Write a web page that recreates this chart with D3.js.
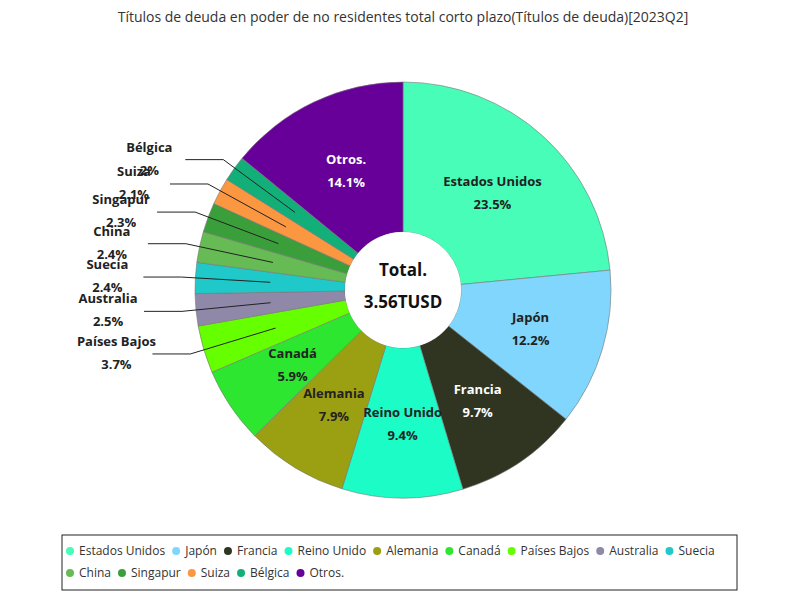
<!DOCTYPE html>
<html lang="en">
<head>
  <meta charset="UTF-8">
  <title>Chart</title>
  <script src="https://cdn.jsdelivr.net/npm/d3@7/dist/d3.min.js"></script>
  <style>
    body { margin: 0; background: #fff; font-family: "Open Sans", "Noto Sans", sans-serif; }
  </style>
</head>
<body>
  <svg></svg>
  <script>
    const width = 800, height = 600
    const title = "Títulos de deuda en poder de no residentes total corto plazo(Títulos de deuda)[2023Q2]"
    const categories = ["Estados Unidos", "Japón", "Francia", "Reino Unido", "Alemania", "Canadá", "Países Bajos",
      "Australia", "Suecia", "China", "Singapur", "Suiza", "Bélgica", "Otros."]
    const shares = [23.5, 12.2, 9.7, 9.4, 7.9, 5.9, 3.7, 2.5, 2.4, 2.4, 2.3, 2.1, 2, 14.1]
    const colors = ["#47fdb8", "#80d6fc", "#2f3520", "#1bfcc6", "#9ba012", "#2de62f", "#66ff00",
      "#9088a8", "#20c9c9", "#66bb55", "#3a9f3a", "#fb9641", "#12b078", "#660099"]
    const whiteText = ["Francia", "Otros."]
    const totalLabel = "3.56TUSD"

    const cx = 403, cy = 290, R = 208, r0 = 58

    const svg = d3.select("svg").attr("width", width).attr("height", height)

    svg.append("text").attr("x", cx).attr("y", 22).attr("text-anchor", "middle")
      .style("font-size", "14px").attr("fill", "#333").text(title)

    const data = categories.map((c, i) => ({ name: c, value: shares[i], color: colors[i] }))
    const pie = d3.pie().sort(null).value(d => d.value)
    const arcs = pie(data)
    const arc = d3.arc().innerRadius(r0).outerRadius(R)

    const g = svg.append("g").attr("transform", `translate(${cx},${cy})`)
    g.selectAll("path").data(arcs).enter().append("path")
      .attr("d", arc).attr("fill", d => d.data.color)
      .attr("stroke", "#777").attr("stroke-width", 0.6)

    // etiquetas dentro o fuera
    arcs.forEach(d => {
      const [x, y] = arc.centroid(d)
      const big = d.data.value >= 5
      if (big) {
        const t = g.append("text").attr("text-anchor", "middle")
          .style("font-size", "13px").style("font-weight", "bold")
          .attr("fill", whiteText.includes(d.data.name) ? "#fff" : "#222")
        t.append("tspan").attr("x", x).attr("y", y - 6).text(d.data.name)
        t.append("tspan").attr("x", x).attr("y", y + 17).text(d.data.value + "%")
      } else {
        const ly = y * 1.68
        const ex = -Math.sqrt(Math.max(0, 222 * 222 - ly * ly))
        const sx = ex - 38
        g.append("polyline")
          .attr("points", `${x},${y} ${ex},${ly} ${sx},${ly}`)
          .attr("fill", "none").attr("stroke", "#222").attr("stroke-width", 1)
        const t = g.append("text").attr("text-anchor", "middle")
          .style("font-size", "13px").style("font-weight", "bold").attr("fill", "#222")
        t.append("tspan").attr("x", sx - 36).attr("y", ly - 8).text(d.data.name)
        t.append("tspan").attr("x", sx - 36).attr("y", ly + 15).text(d.data.value + "%")
      }
    })

    g.append("circle").attr("r", r0).attr("fill", "#fff")
    g.append("text").attr("text-anchor", "middle").attr("y", -14)
      .style("font-size", "17px").style("font-weight", "bold").attr("fill", "#111").text("Total.")
    g.append("text").attr("text-anchor", "middle").attr("y", 18)
      .style("font-size", "17px").style("font-weight", "bold").attr("fill", "#111").text(totalLabel)

    // leyenda
    const lx0 = 62, ly0 = 535, lw = 675, lh = 55
    svg.append("rect").attr("x", lx0).attr("y", ly0).attr("width", lw).attr("height", lh)
      .attr("fill", "#fff").attr("stroke", "#222").attr("stroke-width", 1)
    let x = lx0 + 8, row = 0
    data.forEach(d => {
      const item = svg.append("g")
      const t = item.append("text").attr("x", 9).attr("y", 4)
        .style("font-size", "12px").attr("fill", "#333").text(d.name)
      const w = t.node().getComputedTextLength() + 20
      if (x + w > lx0 + lw) { x = lx0 + 8; row++ }
      item.attr("transform", `translate(${x},${ly0 + 16 + row * 22})`)
      item.append("circle").attr("r", 4).attr("fill", d.color)
      x += w
    })
  </script>
</body>
</html>
